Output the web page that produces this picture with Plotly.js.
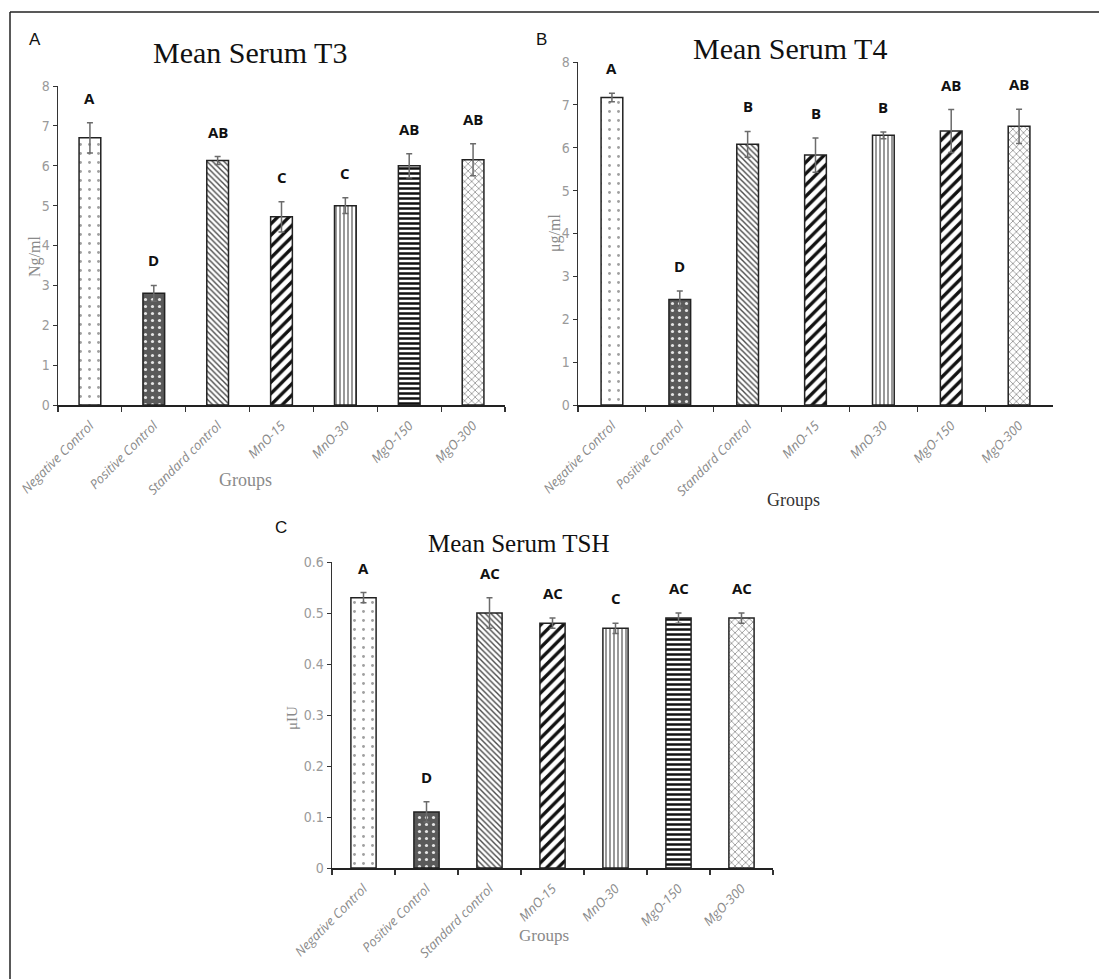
<!DOCTYPE html>
<html>
<head>
<meta charset="utf-8">
<script src="https://cdn.plot.ly/plotly-3.0.1.min.js"></script>
<style>
html,body{margin:0;padding:0;background:#fff;overflow:hidden;}
#chart{width:1099px;height:979px;}
</style>
</head>
<body>
<div id="chart"></div>
<script>
// ---- Data ----
const groupsA = ['Negative Control','Positive Control','Standard control','MnO-15','MnO-30','MgO-150','MgO-300'];
const groupsB = ['Negative Control','Positive Control','Standard Control','MnO-15','MnO-30','MgO-150','MgO-300'];
const groupsC = ['Negative Control','Positive Control','Standard control','MnO-15','MnO-30','MgO-150','MgO-300'];

const t3Mean = [6.70, 2.80, 6.13, 4.72, 5.00, 6.00, 6.15];
const t3Err  = [0.38, 0.20, 0.10, 0.38, 0.20, 0.30, 0.40];
const t3Letters = ['A','D','AB','C','C','AB','AB'];

const t4Mean = [7.17, 2.46, 6.08, 5.83, 6.29, 6.39, 6.50];
const t4Err  = [0.10, 0.20, 0.30, 0.40, 0.08, 0.50, 0.40];
const t4Letters = ['A','D','B','B','B','AB','AB'];

const tshMean = [0.53, 0.11, 0.50, 0.48, 0.47, 0.49, 0.49];
const tshErr  = [0.01, 0.02, 0.03, 0.01, 0.01, 0.01, 0.01];
const tshLetters = ['A','D','AC','AC','C','AC','AC'];

// ---- Styles ----
const W = 1099, H = 979;
const px = v => v / W;
const py = v => 1 - v / H;

function patterns(mgo150Shape){
  return {
    shape:   ['.', '.', '\\', '/', '|', mgo150Shape, 'x'],
    fgcolor: ['#a0a0a0', '#e6e6e6', '#4a4a4a', '#111', '#555', '#111', '#555'],
    bgcolor: ['#fff', '#5a5a5a', '#fff', '#fff', '#fff', '#fff', '#fff'],
    size:    [9, 7, 4, 8, 4, mgo150Shape === '-' ? 5 : 8, 5],
    solidity:[0.08, 0.16, 0.35, 0.42, 0.3, mgo150Shape === '-' ? 0.5 : 0.42, 0.2],
    fillmode:'replace'
  };
}

function barTrace(x, y, err, xa, ya, width, mgo150Shape){
  return {
    type:'bar', x:x, y:y, xaxis:xa, yaxis:ya, width:width,
    marker:{color:'#fff', line:{color:'#222', width:1.5}, pattern:patterns(mgo150Shape)},
    error_y:{type:'data', array:err, visible:true, color:'#6b6b6b', thickness:1.5, width:3},
    hoverinfo:'x+y'
  };
}

const data = [
  barTrace(groupsA, t3Mean, t3Err, 'x', 'y', 0.34, '-'),
  barTrace(groupsB, t4Mean, t4Err, 'x2', 'y2', 0.32, '/'),
  barTrace(groupsC, tshMean, tshErr, 'x3', 'y3', 0.40, '-')
];

const tickFontY = {family:'Liberation Sans Narrow, DejaVu Sans Condensed, Liberation Sans, sans-serif', size:14, color:'#9a9a9a'};
const tickFontX = {family:'Open Sans, Liberation Sans, sans-serif', size:13, color:'#8a8a8a', style:'italic'};

function xAxis(domain, anchor){
  return {domain:domain, anchor:anchor, type:'category', range:[-0.5, 6.5],
    showline:true, linecolor:'#222', linewidth:2, ticks:'outside', tickson:'boundaries',
    ticklen:5, tickcolor:'#333', tickwidth:1.2, tickangle:-45, tickfont:tickFontX,
    ticklabelstandoff:6,
    showgrid:false, zeroline:false, fixedrange:true};
}
function yAxis(domain, anchor, range, dtick){
  return {domain:domain, anchor:anchor, range:range, dtick:dtick,
    showline:true, linecolor:'#333', linewidth:1.5, ticks:'outside', ticklen:4,
    tickcolor:'#333', tickfont:tickFontY, showgrid:false, zeroline:false, fixedrange:true};
}

const annotations = [];
function letters(cats, means, errs, lets, xa, ya){
  cats.forEach((c,i)=>{
    annotations.push({xref:xa, yref:ya, x:c, y:means[i]+errs[i], text:lets[i], showarrow:false,
      yanchor:'middle', yshift:25,
      font:{family:'Open Sans, Liberation Sans, sans-serif', size:15, color:'#111', weight:'bold'}});
  });
}
letters(groupsA, t3Mean, t3Err, t3Letters, 'x', 'y');
letters(groupsB, t4Mean, t4Err, t4Letters, 'x2', 'y2');
letters(groupsC, tshMean, tshErr, tshLetters, 'x3', 'y3');

function txt(x, y, text, font, angle){
  annotations.push({xref:'paper', yref:'paper', x:px(x), y:py(y), text:text, showarrow:false,
    xanchor:'center', yanchor:'middle', textangle:angle||0, font:font});
}
const serifTitle = s => ({family:'Liberation Serif, Times New Roman, serif', size:s, color:'#111'});
const panelFont = {family:'Liberation Sans, Arial, sans-serif', size:17, color:'#111'};
const axTitleFont = (s,c) => ({family:'Liberation Serif, Times New Roman, serif', size:s, color:c});

txt(250, 52, 'Mean Serum T3', serifTitle(30));
txt(790, 48, 'Mean Serum T4', serifTitle(30));
txt(518, 543, 'Mean Serum TSH', serifTitle(25));
txt(35, 39, 'A', panelFont);
txt(541, 40, 'B', panelFont);
txt(281, 527, 'C', panelFont);
txt(35, 257, 'Ng/ml', axTitleFont(16,'#8a8a8a'), -90);
txt(555, 233, 'μg/ml', axTitleFont(16,'#8a8a8a'), -90);
txt(292, 718, 'μIU', axTitleFont(15,'#8a8a8a'), -90);
txt(245, 480, 'Groups', axTitleFont(18,'#8a8a8a'));
txt(793, 500, 'Groups', axTitleFont(18,'#333'));
txt(544, 935, 'Groups', axTitleFont(17,'#8a8a8a'));

const layout = {
  width:W, height:H, margin:{l:0,r:0,t:0,b:0},
  paper_bgcolor:'#fff', plot_bgcolor:'rgba(0,0,0,0)', showlegend:false,
  xaxis: xAxis([px(58), px(505)], 'y'),
  yaxis: yAxis([py(405), py(86)], 'x', [0, 8], 1),
  xaxis2: xAxis([px(578), px(1053)], 'y2'),
  yaxis2: yAxis([py(405), py(62)], 'x2', [0, 8], 1),
  xaxis3: xAxis([px(332), px(773)], 'y3'),
  yaxis3: yAxis([py(868), py(562)], 'x3', [0, 0.6], 0.1),
  annotations: annotations,
  shapes: [
    {type:'line', xref:'paper', yref:'paper', x0:px(10), x1:px(1099), y0:py(12), y1:py(12), line:{color:'#222', width:1.5}},
    {type:'line', xref:'paper', yref:'paper', x0:px(10), x1:px(10), y0:py(12), y1:0, line:{color:'#222', width:1.5}}
  ]
};

Plotly.newPlot('chart', data, layout, {displayModeBar:false, staticPlot:true});
</script>
</body>
</html>
